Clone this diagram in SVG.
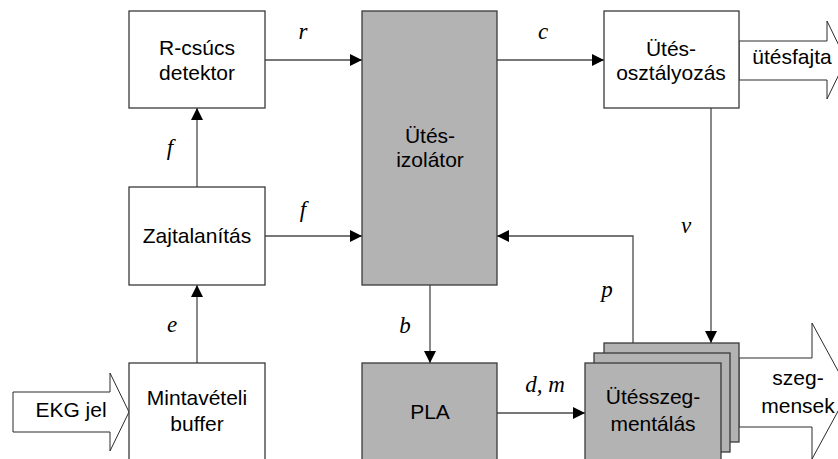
<svg xmlns="http://www.w3.org/2000/svg" width="838" height="459" viewBox="0 0 838 459">
<defs>
<marker id="ah" markerWidth="12" markerHeight="12" viewBox="0 0 12 12" refX="12" refY="6" orient="auto" markerUnits="userSpaceOnUse">
<path d="M0,0 L12,6 L0,12 Z" fill="#000"/>
</marker>
<style>
.box{fill:#fff;stroke:#3a3a3a;stroke-width:1.3}
.gray{fill:#b3b3b3;stroke:#3a3a3a;stroke-width:1.3}
.ln{fill:none;stroke:#4a4a4a;stroke-width:1.3}
.big{fill:#fff;stroke:#2a2a2a;stroke-width:1}
.t{font-family:"Liberation Sans",Arial,sans-serif;font-size:21px;fill:#000;text-anchor:middle}
.l{font-family:"Liberation Serif","Times New Roman",serif;font-style:italic;font-size:23px;fill:#000;text-anchor:middle}
</style>
</defs>
<g id="connectors">
<line class="ln" x1="265" y1="60" x2="362" y2="60" marker-end="url(#ah)"/>
<line class="ln" x1="265" y1="236" x2="362" y2="236" marker-end="url(#ah)"/>
<line class="ln" x1="197" y1="187" x2="197" y2="108" marker-end="url(#ah)"/>
<line class="ln" x1="197" y1="363" x2="197" y2="285" marker-end="url(#ah)"/>
<line class="ln" x1="497" y1="60" x2="604" y2="60" marker-end="url(#ah)"/>
<line class="ln" x1="430" y1="285" x2="430" y2="363" marker-end="url(#ah)"/>
<line class="ln" x1="497" y1="413" x2="585" y2="413" marker-end="url(#ah)"/>
<polyline class="ln" points="633,343 633,236 497,236" marker-end="url(#ah)"/>
<line class="ln" x1="711" y1="108" x2="711" y2="343" marker-end="url(#ah)"/>
</g>
<g id="ekg">
<polygon class="big" points="13,392 110,392 110,373 129,412 110,451 110,432 13,432"/>
<text class="t" x="71" y="417">EKG jel</text>
</g>
<g id="utesfajta">
<polygon class="big" points="739,41 827,41 827,21 846,60 827,99 827,80 739,80"/>
<text class="t" x="792" y="64">ütésfajta</text>
</g>
<g id="szegmensek">
<polygon class="big" points="739,358 812,358 812,323 849,391 812,459 812,427 739,427"/>
<text class="t" x="798" y="385">szeg-</text>
<text class="t" x="798" y="413">mensek</text>
</g>
<g id="rcsucs">
<rect class="box" x="129" y="11" width="136" height="97"/>
<text class="t" x="197" y="55">R-csúcs</text>
<text class="t" x="197" y="80">detektor</text>
</g>
<g id="zajtalanitas">
<rect class="box" x="129" y="187" width="136" height="98"/>
<text class="t" x="197" y="243">Zajtalanítás</text>
</g>
<g id="mintaveteli">
<rect class="box" x="129" y="363" width="136" height="110"/>
<text class="t" x="197" y="405">Mintavételi</text>
<text class="t" x="197" y="431">buffer</text>
</g>
<g id="izolator">
<rect class="gray" x="362" y="11" width="135" height="274"/>
<text class="t" x="430" y="143">Ütés-</text>
<text class="t" x="430" y="167">izolátor</text>
</g>
<g id="pla">
<rect class="gray" x="362" y="363" width="135" height="110"/>
<text class="t" x="430" y="419">PLA</text>
</g>
<g id="osztalyozas">
<rect class="box" x="604" y="11" width="135" height="97"/>
<text class="t" x="671" y="56">Ütés-</text>
<text class="t" x="671" y="80">osztályozás</text>
</g>
<g id="szegmentalas">
<rect class="gray" x="604" y="343" width="135" height="99"/>
<rect class="gray" x="594" y="353" width="136" height="99"/>
<rect class="gray" x="585" y="363" width="136" height="110"/>
<text class="t" x="653" y="404">Ütésszeg-</text>
<text class="t" x="653" y="431">mentálás</text>
</g>
<g id="labels">
<text class="l" x="303" y="39">r</text>
<text class="l" x="543" y="39">c</text>
<text class="l" x="170" y="155">f</text>
<text class="l" x="303" y="217">f</text>
<text class="l" x="172" y="332">e</text>
<text class="l" x="405" y="333">b</text>
<text class="l" x="607" y="297">p</text>
<text class="l" x="686" y="233">v</text>
<text class="l" x="545" y="392">d, m</text>
</g>
</svg>
